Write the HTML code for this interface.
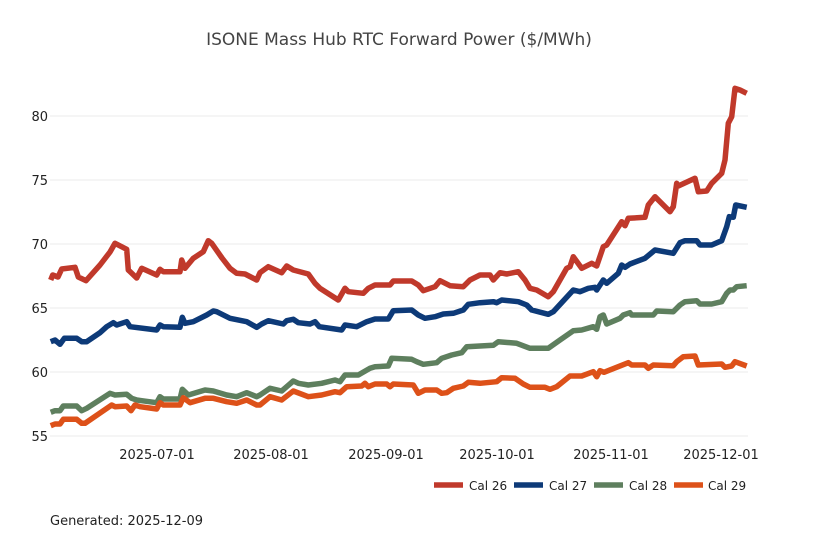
<!DOCTYPE html>
<html>
<head>
<meta charset="utf-8">
<style>
html,body{margin:0;padding:0;background:#fff;}
svg{display:block;}
text{font-family:"DejaVu Sans","Liberation Sans",sans-serif;}
</style>
</head>
<body>
<svg width="818" height="545" viewBox="0 0 818 545" xmlns="http://www.w3.org/2000/svg">
<rect width="818" height="545" fill="#fff"/>
<text x="399" y="45" text-anchor="middle" font-size="17" fill="#444">ISONE Mass Hub RTC Forward Power ($/MWh)</text>
<g stroke="#ebebeb" stroke-width="1">
<line x1="50" x2="748" y1="116" y2="116"/>
<line x1="50" x2="748" y1="180" y2="180"/>
<line x1="50" x2="748" y1="244" y2="244"/>
<line x1="50" x2="748" y1="308" y2="308"/>
<line x1="50" x2="748" y1="372" y2="372"/>
<line x1="50" x2="748" y1="436" y2="436"/>
</g>
<g font-size="13" fill="#222" text-anchor="end">
<text x="48" y="121">80</text>
<text x="48" y="185">75</text>
<text x="48" y="249">70</text>
<text x="48" y="313">65</text>
<text x="48" y="377">60</text>
<text x="48" y="441">55</text>
</g>
<g font-size="13" fill="#222" text-anchor="middle">
<text x="157" y="459">2025-07-01</text>
<text x="271" y="459">2025-08-01</text>
<text x="386" y="459">2025-09-01</text>
<text x="497" y="459">2025-10-01</text>
<text x="611" y="459">2025-11-01</text>
<text x="721" y="459">2025-12-01</text>
</g>
<g fill="none" stroke-width="5.5" stroke-linejoin="round" stroke-linecap="butt">
<polyline stroke="#c0392b" points="50.7,280 52.7,275 58,277 61.7,269 75,267.3 78.3,277 86,280.7 100,265 110,252 115,243.3 126.7,249.3 128.3,270 136.7,278 141.7,268.3 156.7,275 160,269.3 163.3,271.7 180,271.7 181.7,260 185,268.3 193.3,258.3 203.3,251.7 208.3,240.7 211.7,243.3 222,258 230,268.3 236.7,273.3 245,274 256.7,280 260,272.7 268.3,266.7 281.7,272.7 286.7,266 293.3,270 308.3,274 315,283.3 320,288.3 338.3,300 345,288.3 348.3,291.7 363.3,293.3 368.3,288.3 375,285 390,285 393.3,281 411.7,281 418.3,285 423.3,290.7 435,286.7 440,280.7 450,285.7 463.3,286.7 470,280 480,275 490,275 493.3,280 500,272.7 506.7,274 518.3,271.7 525,280 530,288.3 536.7,290 548.3,296.7 553.3,291.7 560,280 566.7,268.3 570,266.7 573.3,256.7 581.7,268.3 591.7,263.3 596.7,266 603.3,246.7 606.7,245 621.7,221.7 625,225.7 628.3,218.3 645,217.3 648.3,205 655,196.7 670,211.7 673.3,206.7 676.7,183.3 678.3,186 695,178.3 698.3,191.7 706.7,191 711.7,183.3 721.7,173.3 725,160 728.3,123.3 731.7,116.7 735,88.3 740,90 746.7,93.3"/>
<polyline stroke="#0d3a78" points="50.7,341.7 55,340 60,344.3 64.3,338.3 76.7,338.3 81.7,341.7 86.7,341.7 100,332.7 106.7,326.7 113.3,322.7 116.7,325 126.7,321.7 130,326.7 156.7,330 160,325 163.3,326.7 180,327.3 182.3,317.3 185,323.3 193.3,321.7 206.7,315 213.3,311 216.7,311.7 230,318.3 246.7,321.7 256.7,327.3 261.7,324 268.3,320.7 283.3,324 286.7,320.7 293.3,319.3 298.3,322.7 310,324 315,321.7 319.3,326.7 341.7,330 345,325 356.7,326.7 366.7,321.7 375,319 388.3,319 393.3,310.7 411.7,310 418.3,315 425,318.3 435,316.7 443.3,314 453.3,313.3 463.3,310 468.3,304.3 480,302.7 493.3,301.7 496.7,302.7 501.7,300 518.3,301.7 526.7,305 531.7,310 548.3,314.3 553.3,311.7 573.3,290 580,291.7 588.3,288.3 595,287.3 596.7,290 603.3,280 606.7,283.3 618.3,273.3 621.7,265 625,267.3 630,264 645,258.3 655,250 673.3,253.3 680,242.7 685,240.7 696.7,240.7 700,245 711.7,245 721.7,240.7 726.7,226.7 729.3,216.7 733.3,217.3 735.7,205 746.7,207.3"/>
<polyline stroke="#5e7f5e" points="50.7,412.3 55,410.7 60,410.7 63.3,406 76.7,406 81.7,410.7 86.7,408.3 110,393.3 115,395 126.7,394.3 131.7,398.3 136.7,400 141.7,400.7 156.7,402.7 160,396.7 163.3,399 180,399 182.3,389.3 188.3,395 205,390 213.3,391 226.7,395 236.7,396.7 246.7,392.7 256.7,396.7 260,395 270,388.3 281.7,391 286.7,386.7 293.3,381 298.3,383.3 308.3,385 321.7,383.3 335,380 340,381.7 345,375 358.3,375 370,368.3 375,366.7 388.3,366 391.7,358.3 411.7,359.3 416.7,361.7 423.3,364.3 436.7,362.7 441.7,358.3 451.7,355 461.7,352.7 466.7,346.7 493.3,345.3 498.3,341.7 516.7,343.3 530,348.3 548.3,348.3 560,340 573.3,330.7 581.7,330 593.3,326.7 596.7,329.3 600,316.7 603.3,315 606.7,324 620,318.3 623.3,315 630,312.7 631.7,315 653.3,315 656.7,311 673.3,311.7 680,305 685,301.7 696.7,300.7 700,304 711.7,304 721.7,301.7 726.7,293.3 730,290 733.3,290 736.7,286.7 746.7,285.7"/>
<polyline stroke="#dd5119" points="50.7,425.7 55,424 60,424 63.3,419.3 76.7,419.3 81.7,423.3 85,423.3 111.7,405 115,406.7 126.7,406 131,410.7 135,405 140,406.7 156.7,409 160,402.7 163.3,405 180,405 183.3,397.7 190,402.7 205,398.3 213.3,398.3 226.7,401.7 236.7,403.3 246.7,400 256.7,405 260,405 270,396.7 281.7,400 293.3,391 308.3,396.7 321.7,395 335,391.7 340,392.7 346.7,386.7 361.7,386 365,383.3 368.3,386.7 375,384 386.7,384 390,386.7 393.3,384 413.3,385 418.3,393.3 425,390 436.7,390 441.7,393.3 446.7,392.7 453.3,388.3 463.3,386 468.3,382.3 480,383.3 496.7,381.7 501.7,377.7 515,378.3 523.3,384 530,387.3 545,387.3 550,389.3 556.7,386.7 570,376 581.7,376 593.3,371.7 596.7,376.7 600,370.7 604,372.3 628.3,362.7 631.7,365 645,365 648.3,368.3 653.3,365 673.3,365.7 676.7,361.7 683.3,356.7 695,356 698.3,365 721.7,364 725,367.3 731.7,366 735,361.7 746.7,366"/>
</g>
<g stroke-width="5.5">
<line x1="434" x2="463" y1="485" y2="485" stroke="#c0392b"/>
<line x1="514" x2="543" y1="485" y2="485" stroke="#0d3a78"/>
<line x1="594" x2="623" y1="485" y2="485" stroke="#5e7f5e"/>
<line x1="674" x2="703" y1="485" y2="485" stroke="#dd5119"/>
</g>
<g font-size="12" fill="#222">
<text x="469" y="490">Cal 26</text>
<text x="549" y="490">Cal 27</text>
<text x="629" y="490">Cal 28</text>
<text x="708" y="490">Cal 29</text>
</g>
<text x="50" y="525" font-size="13" fill="#222">Generated: 2025-12-09</text>
</svg>
</body>
</html>
